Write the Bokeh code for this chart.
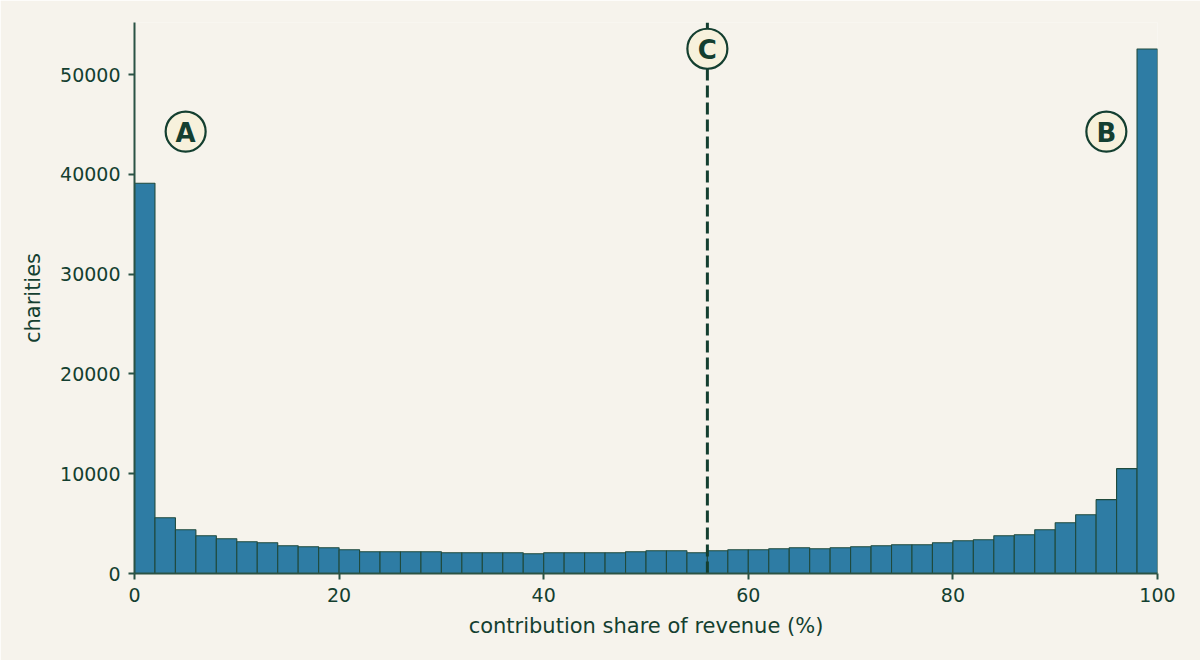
from bokeh.plotting import figure
from bokeh.models import Range1d, FixedTicker, ColumnDataSource
from bokeh.core.properties import value
from bokeh.embed import file_html
from bokeh.resources import INLINE

# Histogram of contribution share of revenue, 2-point bins from 0 to 100
bin_edges = list(range(0, 101, 2))
counts = [39120, 5590, 4390, 3785, 3480, 3180, 3080, 2780, 2680, 2580,
          2380, 2180, 2180, 2180, 2180, 2080, 2080, 2080, 2080, 1980,
          2080, 2080, 2080, 2080, 2180, 2280, 2280, 2080, 2280, 2380,
          2380, 2480, 2580, 2480, 2580, 2680, 2780, 2880, 2880, 3080,
          3280, 3380, 3780, 3880, 4385, 5090, 5890, 7400, 10510, 52580]

x_ticks = [0, 20, 40, 60, 80, 100]
y_ticks = [0, 10000, 20000, 30000, 40000, 50000]

# Reference marker at the median share, plus callouts
median_share = 56
callout_labels = ["A", "B", "C"]
callout_x = [5, 95, 56]
callout_y = [44300, 44300, 52600]

BG = "#f6f3ec"
INK = "#143f30"
AXIS = "#2a5345"
FONT = "DejaVu Sans"

p = figure(width=1200, height=660, output_backend="svg", toolbar_location=None,
           x_range=Range1d(0, 100), y_range=Range1d(0, 55230),
           min_border_left=134, min_border_right=43, min_border_top=22,
           min_border_bottom=87)
p.background_fill_color = BG
p.border_fill_color = BG
p.outline_line_color = None
p.grid.visible = False

src = ColumnDataSource(dict(left=bin_edges[:-1], right=bin_edges[1:], top=counts))
p.quad(left="left", right="right", top="top", bottom=0, source=src,
       fill_color="#2e7ca4", line_color="#1f4a3d", line_width=1.1)

p.line(x=[median_share, median_share], y=[0, 55230], line_color=INK,
       line_width=3, line_dash="12 5")

p.scatter(x=callout_x, y=callout_y, size=40, marker="circle",
          fill_color="#f7f1dc", line_color=INK, line_width=2.2)
p.text(x=callout_x, y=callout_y, text=callout_labels, text_align="center",
       text_baseline="middle", text_font=value(FONT), text_font_style="bold",
       text_font_size="26px", text_color=INK, y_offset=1)

for ax in (p.xaxis[0], p.yaxis[0]):
    ax.axis_line_color = AXIS
    ax.axis_line_width = 2
    ax.major_tick_line_color = AXIS
    ax.major_tick_line_width = 2
    ax.major_tick_out = 6
    ax.major_tick_in = 0
    ax.minor_tick_line_color = None
    ax.major_label_text_font = FONT
    ax.major_label_text_font_size = "19px"
    ax.major_label_text_color = INK
    ax.axis_label_text_font = FONT
    ax.axis_label_text_font_size = "21px"
    ax.axis_label_text_font_style = "normal"
    ax.axis_label_text_color = INK
    ax.major_label_standoff = 8

p.xaxis.ticker = FixedTicker(ticks=x_ticks)
p.yaxis.ticker = FixedTicker(ticks=y_ticks)
p.yaxis.formatter.use_scientific = False
p.xaxis.axis_label = "contribution share of revenue (%)"
p.yaxis.axis_label = "charities"
p.xaxis.axis_label_standoff = 9
p.yaxis.axis_label_standoff = 12

open("out.html", "w").write(file_html(p, INLINE))
